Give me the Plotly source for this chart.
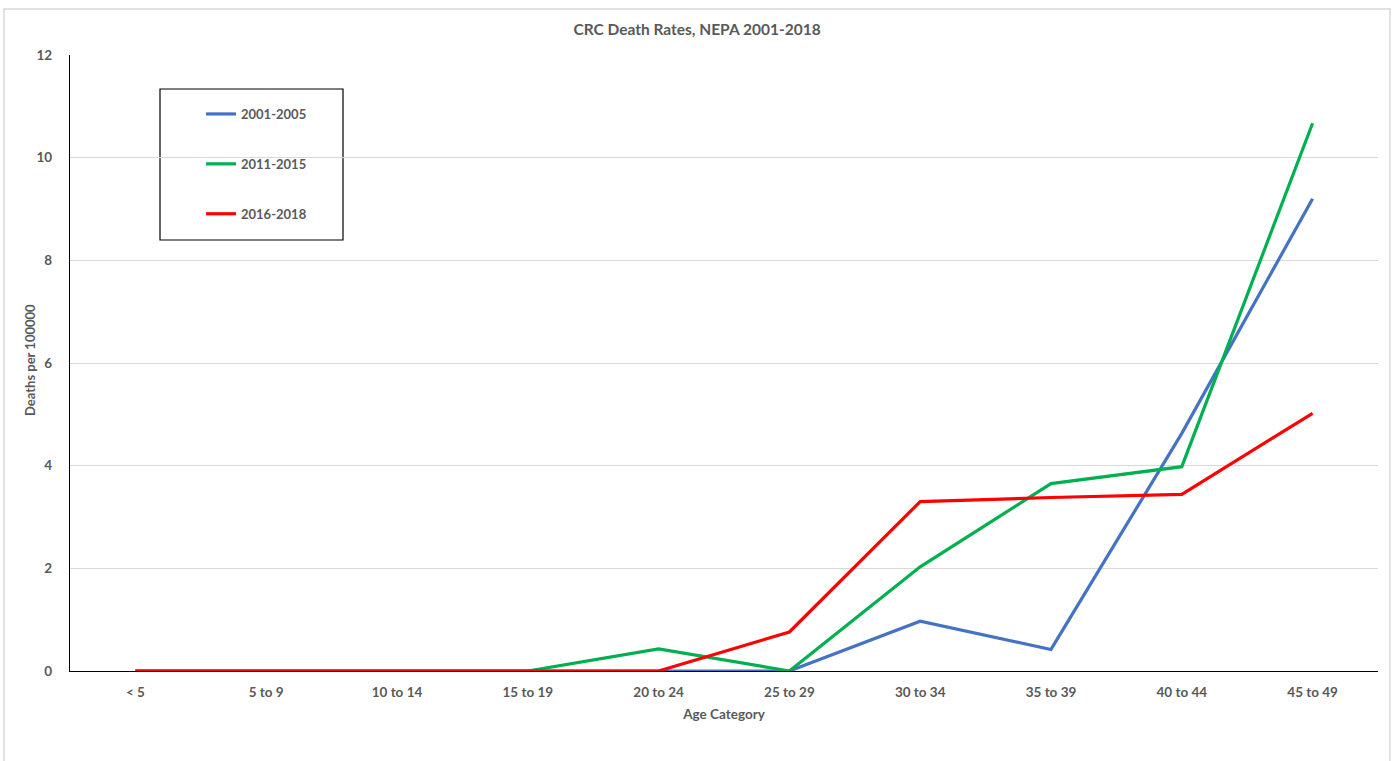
import plotly.graph_objects as go

categories = ["< 5", "5 to 9", "10 to 14", "15 to 19", "20 to 24", "25 to 29",
              "30 to 34", "35 to 39", "40 to 44", "45 to 49"]
rates_2001_2005 = [0, 0, 0, 0, 0, 0, 0.97, 0.42, 4.63, 9.20]
rates_2011_2015 = [0, 0, 0, 0, 0.43, 0, 2.03, 3.65, 3.98, 10.67]
rates_2016_2018 = [0, 0, 0, 0, 0, 0.76, 3.30, 3.38, 3.44, 5.02]
series_names = ["2001-2005", "2011-2015", "2016-2018"]
series_colors = ["#4472C4", "#00B050", "#FF0000"]
y_ticks = [0, 2, 4, 6, 8, 10, 12]

FONT = "Lato"
GREY = "#595959"

fig = go.Figure()
for name, vals, col in zip(series_names, [rates_2001_2005, rates_2011_2015, rates_2016_2018], series_colors):
    fig.add_trace(go.Scatter(
        x=list(range(len(categories))), y=vals, mode="lines", name=name,
        legendgroup=name,
        line=dict(color=col, width=3.2),
    ))

W, H = 1393, 761
ml, mr, mt, mb = 70, W - 1378, 55, H - 671
pw, ph = W - ml - mr, H - mt - mb

def px_x(p):
    return (p - ml) / pw

def px_y(p):
    return (H - mb - p) / ph

fig.update_layout(
    width=W, height=H,
    margin=dict(l=ml, r=mr, t=mt, b=mb),
    paper_bgcolor="white", plot_bgcolor="white",
    font=dict(family=FONT, color=GREY, size=13),
    title=dict(text="CRC Death Rates, NEPA 2001-2018", x=px_x(697), xref="paper", xanchor="center",
               y=1 - 30 / H, yanchor="middle",
               font=dict(family=FONT, size=15.5, color=GREY, weight="bold")),
    xaxis=dict(
        tickmode="array", tickvals=list(range(len(categories))), ticktext=categories,
        range=[-0.5, len(categories) - 0.5],
        showgrid=False, showline=True, linecolor="black", linewidth=1.3,
        ticks="", zeroline=False, ticklabelstandoff=9,
        tickfont=dict(family=FONT, size=13.5, color=GREY, weight="bold"),
        title=dict(text="Age Category", standoff=10,
                   font=dict(family=FONT, size=13.5, color=GREY, weight="bold")),
    ),
    yaxis=dict(
        range=[0, 12], tickmode="array", tickvals=y_ticks,
        showgrid=True, gridcolor="#d9d9d9", gridwidth=1,
        showline=True, linecolor="black", linewidth=1.3,
        zeroline=False, ticks="", ticklen=0, ticklabelstandoff=14,
        tickfont=dict(family=FONT, size=13.5, color=GREY, weight="bold"),
    ),
    annotations=[
        dict(text="Deaths per 100000", textangle=-90, xref="paper", yref="paper",
             x=px_x(30), y=px_y(360), xanchor="center", yanchor="middle",
             showarrow=False, font=dict(family=FONT, size=13, color=GREY, weight="bold")),
    ],
    showlegend=True,
    legend=dict(
        x=px_x(201), xanchor="left", y=px_y(99), yanchor="top",
        bgcolor="rgba(0,0,0,0)", borderwidth=0,
        tracegroupgap=30, itemwidth=30,
        font=dict(family=FONT, size=13, color=GREY, weight="bold"),
        traceorder="grouped",
    ),
    shapes=[
        dict(type="rect", xref="paper", yref="paper",
             x0=px_x(160), x1=px_x(343), y0=px_y(240), y1=px_y(89),
             line=dict(color="black", width=1.2), fillcolor="white", layer="below"),
        dict(type="rect", xref="paper", yref="paper",
             x0=px_x(4), x1=px_x(1390), y0=px_y(770), y1=px_y(9),
             line=dict(color="#d9d9d9", width=1.5), fillcolor="rgba(0,0,0,0)", layer="below"),
    ],
)

fig.write_html("out.html")
